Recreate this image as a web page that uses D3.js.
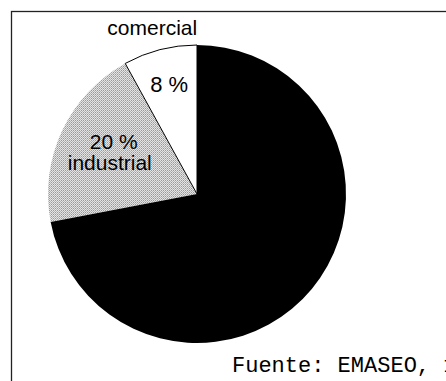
<!DOCTYPE html>
<html>
<head>
<meta charset="utf-8">
<script src="https://cdn.jsdelivr.net/npm/d3@7"></script>
<style>
  html, body { margin: 0; padding: 0; background: #fff; }
  svg { display: block; }
</style>
</head>
<body>
<svg id="chart" width="446" height="381"></svg>
<script>
// Waste generation by source (percent)
const categories = ["industrial", "comercial", "domiciliar"];
const values = [20, 8, 72];
const labelNames = ["industrial", "comercial", null];
const sourceNote = "Fuente: EMASEO, 1998";

const W = 446, H = 381;
const cx = 197, cy = 194, R = 149;

const svg = d3.select("#chart");

// halftone-like grey texture for the industrial slice
const defs = svg.append("defs");
const pat = defs.append("pattern")
  .attr("id", "halftone")
  .attr("patternUnits", "userSpaceOnUse")
  .attr("width", 2).attr("height", 2);
pat.append("rect").attr("width", 2).attr("height", 2).attr("fill", "#e4e4e4");
pat.append("rect").attr("x", 0).attr("y", 0).attr("width", 1).attr("height", 1).attr("fill", "#9a9a9a");
pat.append("rect").attr("x", 1).attr("y", 1).attr("width", 1).attr("height", 1).attr("fill", "#b4b4b4");

// frame (continues past the right and bottom edges)
svg.append("rect")
  .attr("x", 11.5).attr("y", 11.5)
  .attr("width", W + 20).attr("height", H + 20)
  .attr("fill", "none")
  .attr("stroke", "#222")
  .attr("stroke-width", 1.3);

const total = d3.sum(values);
const start = -2 * Math.PI * (values[0] + values[1]) / total;

const pie = d3.pie()
  .sort(null)
  .value(d => d.value)
  .startAngle(start)
  .endAngle(start + 2 * Math.PI);

const data = categories.map((c, i) => ({ name: c, value: values[i], label: labelNames[i] }));
const arcs = pie(data);

const arc = d3.arc().innerRadius(0).outerRadius(R);
const fills = { industrial: "url(#halftone)", comercial: "#ffffff", domiciliar: "#000000" };

const g = svg.append("g").attr("transform", `translate(${cx},${cy})`);

g.selectAll("path.slice")
  .data(arcs)
  .join("path")
  .attr("class", "slice")
  .attr("d", arc)
  .attr("fill", d => fills[d.data.name])
  .attr("stroke", d => d.data.name === "comercial" ? "#000" : "none")
  .attr("stroke-width", 1);

// percentage labels inside the slices
const fmt = v => `${v} %`;
const midA = d => (d.startAngle + d.endAngle) / 2;
const font = "Liberation Sans, Arial, sans-serif";

const ind = arcs[0], com = arcs[1];

// industrial: value + name stacked
const indR = 92;
const ix = indR * Math.sin(midA(ind)), iy = -indR * Math.cos(midA(ind));
g.append("text")
  .attr("x", ix).attr("y", iy - 6)
  .attr("text-anchor", "middle")
  .attr("font-family", font)
  .attr("font-size", 21)
  .attr("fill", "#000")
  .text(fmt(ind.data.value));
g.append("text")
  .attr("x", ix - 4).attr("y", iy + 15)
  .attr("text-anchor", "middle")
  .attr("font-family", font)
  .attr("font-size", 21)
  .attr("fill", "#000")
  .text(ind.data.label);

// comercial: value inside, name outside above the arc
const comR = 112;
g.append("text")
  .attr("x", comR * Math.sin(midA(com))).attr("y", -comR * Math.cos(midA(com)) + 6.5)
  .attr("text-anchor", "middle")
  .attr("font-family", font)
  .attr("font-size", 22)
  .attr("fill", "#000")
  .text(fmt(com.data.value));

const outR = 168;
g.append("text")
  .attr("x", outR * Math.sin(midA(com)) - 3).attr("y", -outR * Math.cos(midA(com)) + 3.5)
  .attr("text-anchor", "middle")
  .attr("font-family", font)
  .attr("font-size", 21)
  .attr("fill", "#000")
  .text(com.data.label);

// source note
svg.append("text")
  .attr("x", 232).attr("y", 372)
  .attr("font-family", "Liberation Mono, Courier New, monospace")
  .attr("font-size", 22)
  .attr("fill", "#000")
  .text(sourceNote);
</script>
</body>
</html>
